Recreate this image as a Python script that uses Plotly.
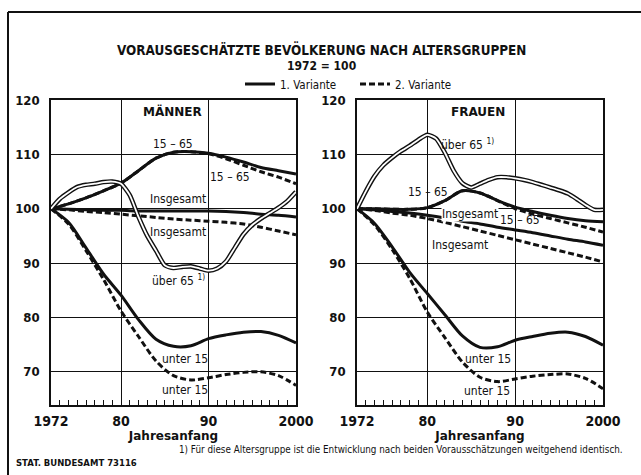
import plotly.graph_objects as go

# ---------------- data ----------------
YEARS = [1972, 1974, 1976, 1978, 1980, 1982, 1984, 1986, 1988, 1990, 1992, 1994, 1996, 1998, 2000]
YEARS_1 = list(range(1972, 2001))

# Männer
M_1565_V1 = [100, 100.9, 102.0, 103.3, 104.7, 107.0, 109.3, 110.4, 110.5, 110.2, 109.5, 108.6, 107.6, 107.0, 106.4]
M_1565_V2 = [100, 100.9, 102.0, 103.3, 104.7, 107.0, 109.3, 110.4, 110.5, 110.1, 109.2, 108.0, 106.8, 105.8, 104.6]
M_INS_V1 = [100, 99.9, 99.8, 99.7, 99.7, 99.6, 99.6, 99.6, 99.6, 99.6, 99.5, 99.3, 99.0, 98.8, 98.5]
M_INS_V2 = [100, 99.8, 99.5, 99.3, 99.0, 98.7, 98.4, 98.1, 97.9, 97.7, 97.5, 97.2, 96.6, 95.9, 95.2]
M_U15_V1 = [100, 97.5, 92.8, 88.0, 84.1, 79.6, 76.0, 74.7, 74.8, 76.1, 76.8, 77.3, 77.4, 76.7, 75.3]
M_U15_V2 = [100, 97.2, 92.3, 87.0, 81.2, 76.5, 72.0, 69.3, 68.5, 68.9, 69.5, 69.9, 70.0, 69.3, 67.5]
M_UE65 = [100, 101.8, 103.0, 104.0, 104.4, 104.6, 104.9, 105.0, 104.6, 102.5, 98.5, 95.0, 92.3,
          89.6, 89.1, 89.3, 89.4, 89.0, 88.6, 89.0, 90.3, 92.8, 95.3, 97.0, 98.2, 99.2, 100.2, 101.4, 103.1]

# Frauen
F_1565_V1 = [100, 100.0, 99.9, 99.9, 100.2, 101.5, 103.3, 102.9, 101.5, 100.3, 99.5, 98.8, 98.2, 97.8, 97.6]
F_1565_V2 = [100, 100.0, 99.9, 99.9, 100.2, 101.5, 103.3, 102.9, 101.5, 100.0, 99.0, 98.2, 97.4, 96.6, 95.7]
F_INS_V1 = [100, 99.8, 99.5, 99.2, 98.8, 98.3, 97.7, 97.2, 96.6, 96.1, 95.6, 95.0, 94.4, 93.9, 93.3]
F_INS_V2 = [100, 99.7, 99.2, 98.8, 98.2, 97.5, 96.7, 95.9, 95.1, 94.3, 93.5, 92.7, 91.9, 91.1, 90.2]
F_U15_V1 = [100, 97.3, 93.0, 88.3, 84.4, 80.5, 76.6, 74.5, 74.6, 75.8, 76.5, 77.1, 77.3, 76.5, 74.9]
F_U15_V2 = [100, 97.0, 92.5, 87.2, 81.0, 76.3, 71.8, 69.0, 68.2, 68.7, 69.2, 69.5, 69.6, 68.8, 66.9]
F_UE65 = [100, 103.2, 106.0, 108.0, 109.4, 110.6, 111.6, 112.7, 113.6, 112.9, 110.3, 107.0, 104.7,
          103.9, 104.6, 105.3, 105.8, 105.8, 105.6, 105.3, 104.9, 104.4, 103.9, 103.4, 102.8, 101.8, 100.7, 99.8, 99.8]

X_TICKS = [1972, 1980, 1990, 2000]
X_TICKTEXT = ["1972", "80", "90", "2000"]
Y_TICKS = [70, 80, 90, 100, 110, 120]
Y_TICKTEXT = ["70", "80", "90", "100", "110", "120"]

TITLE = "VORAUSGESCHÄTZTE BEVÖLKERUNG NACH ALTERSGRUPPEN"
SUBTITLE = "1972 = 100"
FOOTNOTE = "1) Für diese Altersgruppe ist die Entwicklung nach beiden Vorausschätzungen weitgehend identisch."
SOURCE = "STAT. BUNDESAMT 73116"

# ---------------- styling ----------------
W, H = 641, 475
COND = "DejaVu Sans Condensed, Liberation Sans Narrow, sans-serif"
WIDE = "DejaVu Sans, Liberation Sans, sans-serif"
BLACK = "#111111"
LW = 3
DASH = "6px,3px"

fig = go.Figure()


def add_line(x, y, xa, ya, dashed=False):
    fig.add_trace(go.Scatter(
        x=x, y=y, xaxis=xa, yaxis=ya, mode="lines", showlegend=False, hoverinfo="skip",
        line=dict(color=BLACK, width=LW, dash=DASH if dashed else "solid", shape="spline", smoothing=0.8)))


def add_double(x, y, xa, ya):
    fig.add_trace(go.Scatter(x=x, y=y, xaxis=xa, yaxis=ya, mode="lines", showlegend=False,
                             hoverinfo="skip", line=dict(color=BLACK, width=4.6, shape="spline", smoothing=0.6)))
    fig.add_trace(go.Scatter(x=x, y=y, xaxis=xa, yaxis=ya, mode="lines", showlegend=False,
                             hoverinfo="skip", line=dict(color="white", width=1.8, shape="spline", smoothing=0.6)))


for xa, ya, series in [
    ("x", "y", [(M_1565_V2, True), (M_1565_V1, False), (M_INS_V2, True), (M_INS_V1, False),
                (M_U15_V2, True), (M_U15_V1, False)]),
    ("x2", "y2", [(F_1565_V2, True), (F_1565_V1, False), (F_INS_V2, True), (F_INS_V1, False),
                  (F_U15_V2, True), (F_U15_V1, False)]),
]:
    for vals, dashed in series:
        add_line(YEARS, vals, xa, ya, dashed)

add_double(YEARS_1, M_UE65, "x", "y")
add_double(YEARS_1, F_UE65, "x2", "y2")

# legend entries
fig.add_trace(go.Scatter(x=[None], y=[None], mode="lines", name="1. Variante",
                         line=dict(color=BLACK, width=LW)))
fig.add_trace(go.Scatter(x=[None], y=[None], mode="lines", name="2. Variante",
                         line=dict(color=BLACK, width=LW, dash=DASH)))

Y0, Y1 = 1 - 405 / H, 1 - 100 / H
YR = [63.9, 120]

xcommon = dict(range=[1972, 2000], tickvals=X_TICKS, ticktext=X_TICKTEXT, ticks="inside", ticklen=5,
               tickcolor=BLACK, tickwidth=1, showline=True, linecolor=BLACK, linewidth=1.5, mirror=True,
               showgrid=True, gridcolor=BLACK, gridwidth=1, zeroline=False, automargin=False,
               minor=dict(ticks="inside", dtick=1, tick0=1972, ticklen=5, tickcolor=BLACK, tickwidth=1, showgrid=False),
               tickfont=dict(family=COND, size=14, color=BLACK, weight="bold"),
               title=dict(text="Jahresanfang", standoff=2, font=dict(family=WIDE, size=12, color=BLACK, weight="bold")),
               ticklabelstandoff=2, fixedrange=True)
ycommon = dict(range=YR, tickvals=Y_TICKS, ticktext=Y_TICKTEXT, ticks="", showline=True, linecolor=BLACK,
               linewidth=1.5, mirror=True, showgrid=True, gridcolor=BLACK, gridwidth=1, zeroline=False,
               automargin=False, tickfont=dict(family=COND, size=13, color=BLACK, weight="bold"),
               ticklabelstandoff=7, fixedrange=True, domain=[Y0, Y1])
yright = dict(range=YR, tickvals=Y_TICKS, ticktext=Y_TICKTEXT, ticks="", showline=False, showgrid=False,
              zeroline=False, automargin=False, side="right",
              tickfont=dict(family=COND, size=13, color=BLACK, weight="bold"),
              ticklabelstandoff=5, fixedrange=True)

fig.update_layout(
    width=W, height=H, margin=dict(l=0, r=0, t=0, b=0, autoexpand=False),
    paper_bgcolor="white", plot_bgcolor="white",
    xaxis=dict(domain=[51 / W, 296 / W], anchor="y", **xcommon),
    xaxis2=dict(domain=[357 / W, 603 / W], anchor="y2", **xcommon),
    yaxis=dict(anchor="x", **ycommon),
    yaxis2=dict(anchor="x2", **ycommon),
    yaxis3=dict(overlaying="y", anchor="x", **yright),
    yaxis4=dict(overlaying="y2", anchor="x2", **yright),
    showlegend=True,
    legend=dict(orientation="h", x=240 / W, y=1 - 84 / H, xanchor="left", yanchor="middle",
                font=dict(family=COND, size=11.5, color=BLACK), itemwidth=30, entrywidth=70,
                bgcolor="rgba(0,0,0,0)", tracegroupgap=0),
)

# outer frame (left and top)
fig.add_shape(type="line", xref="paper", yref="paper", x0=8 / W, x1=8 / W, y0=0, y1=1 - 12 / H,
              line=dict(color=BLACK, width=2))
fig.add_shape(type="line", xref="paper", yref="paper", x0=8 / W, x1=1, y0=1 - 12 / H, y1=1 - 12 / H,
              line=dict(color=BLACK, width=2))

# titles
fig.add_annotation(text=TITLE, xref="paper", yref="paper", x=322 / W, y=1 - 39 / H, showarrow=False,
                   font=dict(family=COND, size=13.4, color=BLACK, weight="bold"))
fig.add_annotation(text=SUBTITLE, xref="paper", yref="paper", x=321 / W, y=1 - 57 / H, showarrow=False,
                   font=dict(family=COND, size=12, color=BLACK, weight="bold"))
fig.add_annotation(text=FOOTNOTE, xref="paper", yref="paper", x=625 / W, y=1 - 457 / H, xanchor="right",
                   showarrow=False, font=dict(family=COND, size=9.8, color=BLACK))
fig.add_annotation(text=SOURCE, xref="paper", yref="paper", x=14 / W, y=1 - 470 / H, xanchor="left",
                   showarrow=False, font=dict(family=WIDE, size=8.5, color=BLACK, weight="bold"))

# in-chart labels
LBL = dict(family=COND, size=12, color=BLACK)
HEAD = dict(family=WIDE, size=12, color=BLACK, weight="bold")
labels = [
    ("x", "y", 1985.9, 117.8, "MÄNNER", HEAD, None),
    ("x", "y", 1985.9, 111.9, "15 – 65", LBL, None),
    ("x", "y", 1992.5, 105.9, "15 – 65", LBL, None),
    ("x", "y", 1986.5, 101.7, "Insgesamt", LBL, None),
    ("x", "y", 1986.5, 95.8, "Insgesamt", LBL, None),
    ("x", "y", 1986.6, 86.9, "über 65 <sup>1)</sup>", LBL, None),
    ("x", "y", 1987.3, 72.4, "unter 15", LBL, None),
    ("x", "y", 1987.3, 66.7, "unter 15", LBL, None),
    ("x2", "y2", 1985.8, 117.8, "FRAUEN", HEAD, None),
    ("x2", "y2", 1984.6, 111.9, "über 65 <sup>1)</sup>", LBL, None),
    ("x2", "y2", 1980.1, 103.1, "15 – 65", LBL, None),
    ("x2", "y2", 1984.9, 99.1, "Insgesamt", LBL, "white"),
    ("x2", "y2", 1990.5, 98.0, "15 – 65", LBL, None),
    ("x2", "y2", 1983.7, 93.4, "Insgesamt", LBL, None),
    ("x2", "y2", 1986.9, 72.4, "unter 15", LBL, None),
    ("x2", "y2", 1986.8, 66.4, "unter 15", LBL, None),
]
for xr, yr, xv, yv, txt, fnt, bg in labels:
    fig.add_annotation(text=txt, xref=xr, yref=yr, x=xv, y=yv, showarrow=False, font=fnt,
                       bgcolor=bg if bg else "rgba(0,0,0,0)", borderpad=0)

fig.write_html("out.html", config={"displayModeBar": False},
               post_script="document.body.style.margin='0px';")
